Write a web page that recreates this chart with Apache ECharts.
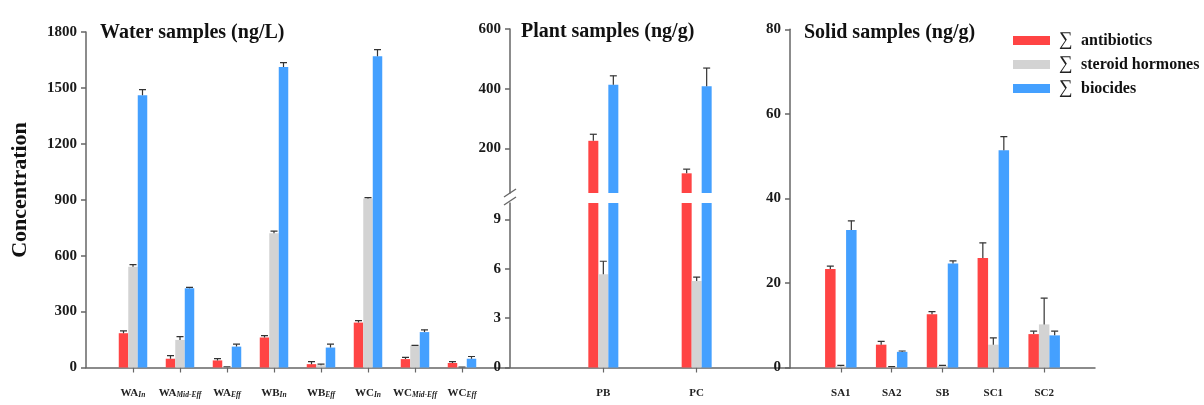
<!DOCTYPE html>
<html>
<head>
<meta charset="utf-8">
<script src="https://cdn.jsdelivr.net/npm/echarts@6/dist/echarts.min.js"></script>
<style>html,body{margin:0;padding:0;background:#fff;}#c{width:1204px;height:405px;}</style>
</head>
<body>
<div id="c"></div>
<script>
// ---------- data ----------
const seriesNames = ['\u2211 antibiotics', '\u2211 steroid hormones', '\u2211 biocides'];
const colors = ['#FF4444', '#D3D3D3', '#44A0FF'];

const waterMain = ['WA', 'WA', 'WA', 'WB', 'WB', 'WC', 'WC', 'WC'];
const waterSub = ['In', 'Mid-Eff', 'Eff', 'In', 'Eff', 'In', 'Mid-Eff', 'Eff'];
const waterAntibiotics = [184, 47, 38, 161, 18, 241, 45, 24];
const waterAntibioticsSD = [12, 17, 10, 10, 14, 11, 9, 8];
const waterSteroids = [541, 148, 2, 720, 12, 907, 118, 1];
const waterSteroidsSD = [11, 18, 1, 12, 6, 4, 1, 1];
const waterBiocides = [1461, 425, 112, 1612, 107, 1670, 190, 47];
const waterBiocidesSD = [30, 5, 13, 24, 18, 35, 12, 12];

const plantCats = ['PB', 'PC'];
const plantAntibiotics = [225, 116];
const plantAntibioticsSD = [22, 14];
const plantSteroids = [5.67, 5.26];
const plantSteroidsSD = [0.79, 0.24];
const plantBiocides = [413, 408];
const plantBiocidesSD = [30, 61];

const solidCats = ['SA1', 'SA2', 'SB', 'SC1', 'SC2'];
const solidAntibiotics = [23.3, 5.4, 12.6, 25.9, 7.9];
const solidAntibioticsSD = [0.7, 0.8, 0.6, 3.6, 0.7];
const solidSteroids = [0.3, 0.1, 0.4, 5.4, 10.2];
const solidSteroidsSD = [0.2, 0.1, 0.1, 1.6, 6.2];
const solidBiocides = [32.5, 3.7, 24.6, 51.4, 7.6];
const solidBiocidesSD = [2.2, 0.2, 0.6, 3.2, 1.0];

const waterTicks = ['0', '300', '600', '900', '1200', '1500', '1800'];
const plantUpperTicks = [200, 400, 600];
const plantLowerTicks = [0, 3, 6, 9];
const solidTicks = ['0', '20', '40', '60', '80'];

// ---------- chart ----------
const SERIF = '"Liberation Serif", "Times New Roman", "DejaVu Serif", serif';
const axisColor = '#666';
const labelColor = '#1a1a1a';

function yAxisBase(idx, extra) {
  return Object.assign({
    type: 'value', gridIndex: idx,
    axisLine: { show: true, lineStyle: { color: axisColor, width: 1.5 } },
    axisTick: { show: true, length: 5, lineStyle: { color: axisColor, width: 1.5 } },
    axisLabel: { color: labelColor, fontFamily: SERIF, fontWeight: 'bold', fontSize: 15, margin: 9 },
    splitLine: { show: false }
  }, extra);
}
function xAxisBase(idx, max, ticks, formatter, show) {
  return {
    type: 'value', gridIndex: idx, min: 0, max: max,
    axisLine: { show: show, onZero: false, lineStyle: { color: axisColor, width: 1.5 } },
    axisTick: { show: show, length: 5, customValues: ticks, lineStyle: { color: axisColor, width: 1.2 } },
    axisLabel: {
      show: show, customValues: ticks, margin: 20,
      color: '#222', fontFamily: SERIF, fontWeight: 'bold', fontSize: 11,
      formatter: formatter,
      rich: {
        m: { fontFamily: SERIF, fontWeight: 'bold', fontSize: 11, color: '#222' },
        s: { fontFamily: SERIF, fontWeight: 'bold', fontStyle: 'italic', fontSize: 7.5, color: '#222', padding: [4, 0, 0, 0] }
      }
    },
    splitLine: { show: false }
  };
}

const grids = [
  { left: 86, width: 423, top: 32, bottom: 37.5 },
  { left: 510, width: 280, top: 29, height: 164 },
  { left: 510, width: 280, top: 203, bottom: 37.5 },
  { left: 790, width: 305, top: 29.3, bottom: 37.5 }
];

const xAxes = [
  xAxisBase(0, 9, [1, 2, 3, 4, 5, 6, 7, 8], v => { const i = Math.round(v) - 1; return '{m|' + waterMain[i] + '}{s|' + waterSub[i] + '}'; }, true),
  xAxisBase(1, 3, [1, 2], v => '', false),
  xAxisBase(2, 3, [1, 2], v => plantCats[Math.round(v) - 1], true),
  xAxisBase(3, 6, [1, 2, 3, 4, 5], v => solidCats[Math.round(v) - 1], true)
];

const yAxes = [
  yAxisBase(0, { min: 0, max: 1800, interval: 300, axisLabel: { color: labelColor, fontFamily: SERIF, fontWeight: 'bold', fontSize: 15, margin: 9, formatter: (v) => waterTicks[Math.round(v / 300)] } }),
  yAxisBase(1, { min: 50, max: 600,
    axisTick: { show: true, length: 5, customValues: plantUpperTicks, lineStyle: { color: axisColor, width: 1.5 } },
    axisLabel: { customValues: plantUpperTicks, color: labelColor, fontFamily: SERIF, fontWeight: 'bold', fontSize: 15, margin: 9 } }),
  yAxisBase(2, { min: 0, max: 10,
    axisTick: { show: true, length: 5, customValues: plantLowerTicks, lineStyle: { color: axisColor, width: 1.5 } },
    axisLabel: { customValues: plantLowerTicks, color: labelColor, fontFamily: SERIF, fontWeight: 'bold', fontSize: 15, margin: 9 } }),
  yAxisBase(3, { min: 0, max: 80, interval: 20, axisLabel: { color: labelColor, fontFamily: SERIF, fontWeight: 'bold', fontSize: 15, margin: 9, formatter: (v) => solidTicks[Math.round(v / 20)] } })
];

function errRenderer(k, barW) {
  return function (params, api) {
    const x = api.value(0), v = api.value(1), e = api.value(2);
    const p0 = api.coord([x, v]);
    const p1 = api.coord([x, e]);
    const cx = p0[0] + (k - 1) * barW;
    const cap = 3.5;
    const st = { stroke: '#333', lineWidth: 1.2 };
    return {
      type: 'group',
      children: [
        { type: 'line', shape: { x1: cx, y1: p0[1], x2: cx, y2: p1[1] }, style: st },
        { type: 'line', shape: { x1: cx - cap, y1: p1[1], x2: cx + cap, y2: p1[1] }, style: st }
      ]
    };
  };
}

const series = [];
function addPanel(axisIdx, groups, barW) {
  groups.forEach((g, k) => {
    const vals = g[0], sds = g[1];
    series.push({
      type: 'bar', name: seriesNames[k], xAxisIndex: axisIdx, yAxisIndex: axisIdx,
      barWidth: barW, barGap: '0%', clip: true,
      itemStyle: { color: colors[k] },
      data: vals.map((v, i) => [i + 1, v])
    });
    series.push({
      type: 'custom', name: 'err' + k, xAxisIndex: axisIdx, yAxisIndex: axisIdx, clip: true,
      renderItem: errRenderer(k, barW), z: 3,
      data: vals.map((v, i) => [i + 1, v, v + sds[i]])
    });
  });
}
addPanel(0, [[waterAntibiotics, waterAntibioticsSD], [waterSteroids, waterSteroidsSD], [waterBiocides, waterBiocidesSD]], 9.5);
addPanel(1, [[plantAntibiotics, plantAntibioticsSD], [plantSteroids, plantSteroidsSD], [plantBiocides, plantBiocidesSD]], 10);
addPanel(2, [[plantAntibiotics, plantAntibioticsSD], [plantSteroids, plantSteroidsSD], [plantBiocides, plantBiocidesSD]], 10);
addPanel(3, [[solidAntibiotics, solidAntibioticsSD], [solidSteroids, solidSteroidsSD], [solidBiocides, solidBiocidesSD]], 10.5);

const option = {
  animation: false,
  backgroundColor: '#fff',
  grid: grids,
  xAxis: xAxes,
  yAxis: yAxes,
  legend: {
    data: seriesNames,
    orient: 'vertical', left: 1013, top: 31, padding: 0,
    icon: 'rect', itemWidth: 37, itemHeight: 9, itemGap: 5,
    formatter: name => { const sp = name.indexOf(' '); return '{sig|' + name.slice(0, sp) + '}{t|' + name.slice(sp + 1) + '}'; },
    textStyle: {
      padding: [0, 0, 0, 4],
      rich: {
        sig: { fontFamily: SERIF, fontSize: 19, color: '#222', width: 22, lineHeight: 18 },
        t: { fontFamily: SERIF, fontWeight: 'bold', fontSize: 16, color: '#111', lineHeight: 18 }
      }
    }
  },
  graphic: [
    { type: 'text', left: 100, top: 23, style: { text: 'Water samples (ng/L)', fontFamily: SERIF, fontWeight: 'bold', fontSize: 20, fill: '#111' } },
    { type: 'text', left: 521, top: 22, style: { text: 'Plant samples (ng/g)', fontFamily: SERIF, fontWeight: 'bold', fontSize: 20, fill: '#111' } },
    { type: 'text', left: 804, top: 23, style: { text: 'Solid samples (ng/g)', fontFamily: SERIF, fontWeight: 'bold', fontSize: 20, fill: '#111' } },
    { type: 'text', x: 20, y: 190, rotation: Math.PI / 2,
      style: { text: 'Concentration', fontFamily: SERIF, fontWeight: 'bold', fontSize: 22, fill: '#111', align: 'center', verticalAlign: 'middle' } },
    { type: 'line', shape: { x1: 504, y1: 197, x2: 516, y2: 189 }, style: { stroke: axisColor, lineWidth: 1.3 } },
    { type: 'line', shape: { x1: 504, y1: 205, x2: 516, y2: 197 }, style: { stroke: axisColor, lineWidth: 1.3 } }
  ],
  series: series
};

const chart = echarts.init(document.getElementById('c'), null, { renderer: 'canvas' });
chart.setOption(option);
</script>
</body>
</html>
